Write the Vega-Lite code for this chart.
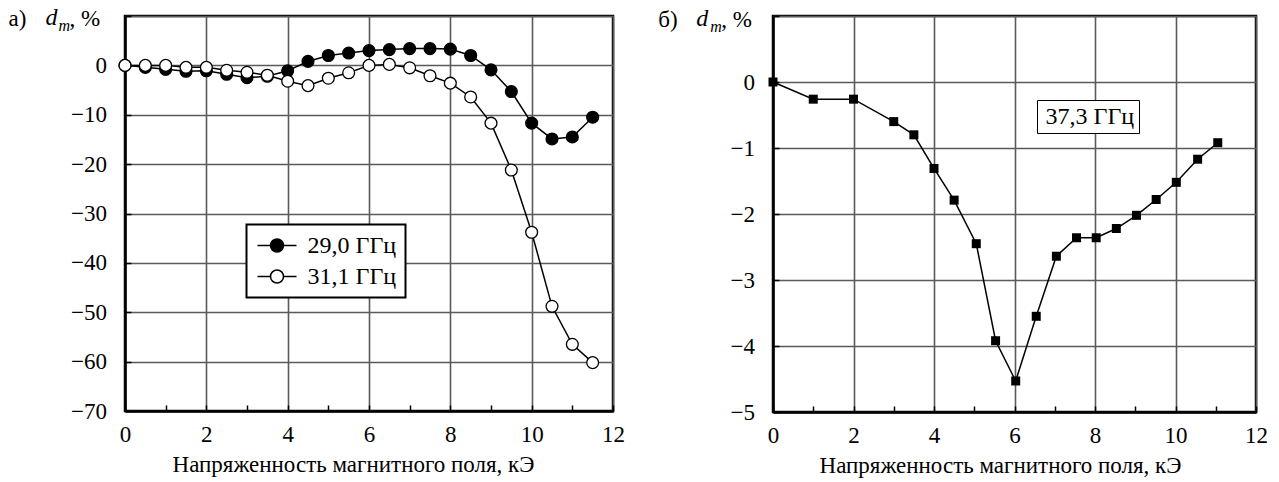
{
  "$schema": "https://vega.github.io/schema/vega-lite/v6.json",
  "padding": {"left": 7, "top": 3, "right": 5, "bottom": 5},
  "spacing": 160,
  "bounds": "flush",
  "background": "white",
  "resolve": {"legend": {"fill": "independent", "shape": "independent"}},
  "config": {
    "font": "Liberation Serif",
    "view": {"stroke": "black", "strokeWidth": 2.5},
    "axis": {
      "labelFont": "Liberation Serif", "labelFontSize": 23, "labelColor": "black",
      "titleFont": "Liberation Serif", "titleFontSize": 23, "titleFontWeight": "normal", "titleColor": "black",
      "domainColor": "black", "domainWidth": 2.5,
      "tickColor": "black", "tickWidth": 1.5, "tickSize": -6,
      "gridColor": "#5a5a5a", "gridWidth": 1.6,
      "labelFlush": false, "labelOverlap": false, "labelBound": false
    }
  },
  "datasets": {
    "left": [
      {"h": 0, "d": 0, "s": "29,0 ГГц"}, {"h": 0.5, "d": -0.4, "s": "29,0 ГГц"}, {"h": 1, "d": -0.8, "s": "29,0 ГГц"},
      {"h": 1.5, "d": -1.2, "s": "29,0 ГГц"}, {"h": 2, "d": -1.1, "s": "29,0 ГГц"}, {"h": 2.5, "d": -1.8, "s": "29,0 ГГц"},
      {"h": 3, "d": -2.5, "s": "29,0 ГГц"}, {"h": 3.5, "d": -2.2, "s": "29,0 ГГц"}, {"h": 4, "d": -1.1, "s": "29,0 ГГц"},
      {"h": 4.5, "d": 0.8, "s": "29,0 ГГц"}, {"h": 5, "d": 2.0, "s": "29,0 ГГц"}, {"h": 5.5, "d": 2.5, "s": "29,0 ГГц"},
      {"h": 6, "d": 3.0, "s": "29,0 ГГц"}, {"h": 6.5, "d": 3.2, "s": "29,0 ГГц"}, {"h": 7, "d": 3.4, "s": "29,0 ГГц"},
      {"h": 7.5, "d": 3.4, "s": "29,0 ГГц"}, {"h": 8, "d": 3.3, "s": "29,0 ГГц"}, {"h": 8.5, "d": 2.0, "s": "29,0 ГГц"},
      {"h": 9, "d": -0.9, "s": "29,0 ГГц"}, {"h": 9.5, "d": -5.3, "s": "29,0 ГГц"}, {"h": 10, "d": -11.7, "s": "29,0 ГГц"},
      {"h": 10.5, "d": -14.9, "s": "29,0 ГГц"}, {"h": 11, "d": -14.5, "s": "29,0 ГГц"}, {"h": 11.5, "d": -10.5, "s": "29,0 ГГц"},
      {"h": 0, "d": 0, "s": "31,1 ГГц"}, {"h": 0.5, "d": 0, "s": "31,1 ГГц"}, {"h": 1, "d": 0, "s": "31,1 ГГц"},
      {"h": 1.5, "d": -0.4, "s": "31,1 ГГц"}, {"h": 2, "d": -0.4, "s": "31,1 ГГц"}, {"h": 2.5, "d": -1.0, "s": "31,1 ГГц"},
      {"h": 3, "d": -1.4, "s": "31,1 ГГц"}, {"h": 3.5, "d": -2.0, "s": "31,1 ГГц"}, {"h": 4, "d": -3.2, "s": "31,1 ГГц"},
      {"h": 4.5, "d": -4.1, "s": "31,1 ГГц"}, {"h": 5, "d": -2.6, "s": "31,1 ГГц"}, {"h": 5.5, "d": -1.5, "s": "31,1 ГГц"},
      {"h": 6, "d": 0, "s": "31,1 ГГц"}, {"h": 6.5, "d": 0.2, "s": "31,1 ГГц"}, {"h": 7, "d": -0.5, "s": "31,1 ГГц"},
      {"h": 7.5, "d": -2.1, "s": "31,1 ГГц"}, {"h": 8, "d": -3.6, "s": "31,1 ГГц"}, {"h": 8.5, "d": -6.4, "s": "31,1 ГГц"},
      {"h": 9, "d": -11.7, "s": "31,1 ГГц"}, {"h": 9.5, "d": -21.2, "s": "31,1 ГГц"}, {"h": 10, "d": -33.8, "s": "31,1 ГГц"},
      {"h": 10.5, "d": -48.8, "s": "31,1 ГГц"}, {"h": 11, "d": -56.5, "s": "31,1 ГГц"}, {"h": 11.5, "d": -60.2, "s": "31,1 ГГц"}
    ],
    "right": [
      {"h": 0, "d": 0, "s": "37,3 ГГц"}, {"h": 1, "d": -0.26, "s": "37,3 ГГц"}, {"h": 2, "d": -0.26, "s": "37,3 ГГц"},
      {"h": 3, "d": -0.6, "s": "37,3 ГГц"}, {"h": 3.5, "d": -0.8, "s": "37,3 ГГц"}, {"h": 4, "d": -1.31, "s": "37,3 ГГц"},
      {"h": 4.5, "d": -1.79, "s": "37,3 ГГц"}, {"h": 5.05, "d": -2.45, "s": "37,3 ГГц"}, {"h": 5.53, "d": -3.92, "s": "37,3 ГГц"},
      {"h": 6.03, "d": -4.53, "s": "37,3 ГГц"}, {"h": 6.54, "d": -3.55, "s": "37,3 ГГц"}, {"h": 7.04, "d": -2.64, "s": "37,3 ГГц"},
      {"h": 7.54, "d": -2.36, "s": "37,3 ГГц"}, {"h": 8.03, "d": -2.36, "s": "37,3 ГГц"}, {"h": 8.53, "d": -2.22, "s": "37,3 ГГц"},
      {"h": 9.03, "d": -2.02, "s": "37,3 ГГц"}, {"h": 9.52, "d": -1.78, "s": "37,3 ГГц"}, {"h": 10.02, "d": -1.52, "s": "37,3 ГГц"},
      {"h": 10.55, "d": -1.17, "s": "37,3 ГГц"}, {"h": 11.05, "d": -0.92, "s": "37,3 ГГц"}
    ]
  },
  "hconcat": [
    {
      "width": 488, "height": 395,
      "layer": [
        {"data": {"name": "left"},
         "mark": {"type": "line", "color": "black", "strokeWidth": 1.5},
         "encoding": {
          "x": {"field": "h", "type": "quantitative",
            "scale": {"domain": [0, 12], "nice": false, "zero": false},
            "axis": {"values": [0,1,2,3,4,5,6,7,8,9,10,11,12],
              "labelExpr": "datum.value % 2 === 0 ? datum.label : ''",
              "gridOpacity": {"condition": {"test": "datum.value % 2 === 0", "value": 1}, "value": 0},
              "labelPadding": 18,
              "title": "Напряженность магнитного поля, кЭ",
              "titleX": 228, "titleY": 60.5, "titleBaseline": "alphabetic", "titleAlign": "center"}},
          "y": {"field": "d", "type": "quantitative",
            "scale": {"domain": [-70, 10], "nice": false, "zero": false},
            "axis": {"values": [-70,-65,-60,-55,-50,-45,-40,-35,-30,-25,-20,-15,-10,-5,0,5,10],
              "labelExpr": "datum.value % 10 === 0 && datum.value < 10 ? datum.label : ''",
              "gridOpacity": {"condition": {"test": "datum.value % 10 === 0", "value": 1}, "value": 0},
              "labelPadding": 24.5,
              "title": null}},
          "detail": {"field": "s"}}},
        {"data": {"name": "left"},
         "mark": {"type": "circle", "size": 140, "stroke": "black", "strokeWidth": 1.3, "opacity": 1},
         "encoding": {
          "x": {"field": "h", "type": "quantitative"},
          "y": {"field": "d", "type": "quantitative"},
          "fill": {"field": "s", "type": "nominal",
           "scale": {"domain": ["29,0 ГГц", "31,1 ГГц"], "range": ["black", "white"]},
           "legend": {"orient": "none", "legendX": 121.5, "legendY": 208.5, "title": null,
             "symbolType": "M-1,0L0.3,0M1.6,0L2.9,0M0.3,0A0.65,0.65,0,1,0,1.6,0A0.65,0.65,0,1,0,0.3,0Z",
             "symbolSize": 400, "symbolStrokeColor": "black", "symbolStrokeWidth": 1.5, "symbolOpacity": 1,
             "labelFont": "Liberation Serif", "labelFontSize": 24, "labelColor": "black", "labelOffset": 28, "labelLimit": 0,
             "padding": 9, "rowPadding": 7, "strokeColor": "black", "fillColor": "white",
             "encode": {"legend": {"update": {"strokeWidth": {"value": 2}}}}}}}},
        {"data": {"values": [{"t": "а)"}]},
         "mark": {"type": "text", "fontSize": 23, "align": "left", "baseline": "alphabetic", "color": "black"},
         "encoding": {"text": {"field": "t"}, "x": {"datum": -2.862}, "y": {"datum": 7.9}}},
        {"data": {"values": [{"t": "d"}]},
         "mark": {"type": "text", "fontSize": 24, "fontStyle": "italic", "align": "left", "baseline": "alphabetic", "color": "black"},
         "encoding": {"text": {"field": "t"}, "x": {"datum": -1.953}, "y": {"datum": 8.1}}},
        {"data": {"values": [{"t": "m"}]},
         "mark": {"type": "text", "fontSize": 16, "fontStyle": "italic", "align": "left", "baseline": "alphabetic", "color": "black"},
         "encoding": {"text": {"field": "t"}, "x": {"datum": -1.634}, "y": {"datum": 6.9}}},
        {"data": {"values": [{"t": ", %"}]},
         "mark": {"type": "text", "fontSize": 23, "align": "left", "baseline": "alphabetic", "color": "black"},
         "encoding": {"text": {"field": "t"}, "x": {"datum": -1.364}, "y": {"datum": 7.9}}}
      ]
    },
    {
      "width": 483, "height": 396,
      "layer": [
        {"data": {"name": "right"},
         "mark": {"type": "line", "color": "black", "strokeWidth": 1.5},
         "encoding": {
          "x": {"field": "h", "type": "quantitative",
            "scale": {"domain": [0, 12], "nice": false, "zero": false},
            "axis": {"values": [0,1,2,3,4,5,6,7,8,9,10,11,12],
              "labelExpr": "datum.value % 2 === 0 ? datum.label : ''",
              "gridOpacity": {"condition": {"test": "datum.value % 2 === 0", "value": 1}, "value": 0},
              "labelPadding": 18,
              "title": "Напряженность магнитного поля, кЭ",
              "titleX": 227, "titleY": 60.5, "titleBaseline": "alphabetic", "titleAlign": "center"}},
          "y": {"field": "d", "type": "quantitative",
            "scale": {"domain": [-5, 1], "nice": false, "zero": false},
            "axis": {"values": [-5,-4.5,-4,-3.5,-3,-2.5,-2,-1.5,-1,-0.5,0,0.5,1],
              "format": "d",
              "labelExpr": "datum.value % 1 === 0 && datum.value < 1 ? datum.label : ''",
              "gridOpacity": {"condition": {"test": "datum.value % 1 === 0", "value": 1}, "value": 0},
              "labelPadding": 24.5,
              "title": null}}}},
        {"data": {"name": "right"},
         "mark": {"type": "point", "filled": true, "size": 81, "color": "black", "opacity": 1},
         "encoding": {
          "x": {"field": "h", "type": "quantitative"},
          "y": {"field": "d", "type": "quantitative"},
          "shape": {"field": "s", "type": "nominal", "scale": {"range": ["square"]},
           "legend": {"orient": "none", "legendX": 264, "legendY": 84, "title": null,
             "symbolSize": 0, "symbolOpacity": 0, "symbolStrokeWidth": 0,
             "labelFont": "Liberation Serif", "labelFontSize": 24, "labelColor": "black", "labelOffset": -20, "labelLimit": 0,
             "padding": 4.5, "strokeColor": "black", "fillColor": "white",
             "encode": {"legend": {"update": {"strokeWidth": {"value": 2}}}}}}}},
        {"data": {"values": [{"t": "б)"}]},
         "mark": {"type": "text", "fontSize": 23, "align": "left", "baseline": "alphabetic", "color": "black"},
         "encoding": {"text": {"field": "t"}, "x": {"datum": -2.85}, "y": {"datum": 0.833}}},
        {"data": {"values": [{"t": "d"}]},
         "mark": {"type": "text", "fontSize": 24, "fontStyle": "italic", "align": "left", "baseline": "alphabetic", "color": "black"},
         "encoding": {"text": {"field": "t"}, "x": {"datum": -1.906}, "y": {"datum": 0.848}}},
        {"data": {"values": [{"t": "m"}]},
         "mark": {"type": "text", "fontSize": 16, "fontStyle": "italic", "align": "left", "baseline": "alphabetic", "color": "black"},
         "encoding": {"text": {"field": "t"}, "x": {"datum": -1.559}, "y": {"datum": 0.758}}},
        {"data": {"values": [{"t": ", %"}]},
         "mark": {"type": "text", "fontSize": 23, "align": "left", "baseline": "alphabetic", "color": "black"},
         "encoding": {"text": {"field": "t"}, "x": {"datum": -1.285}, "y": {"datum": 0.833}}}
      ]
    }
  ]
}
